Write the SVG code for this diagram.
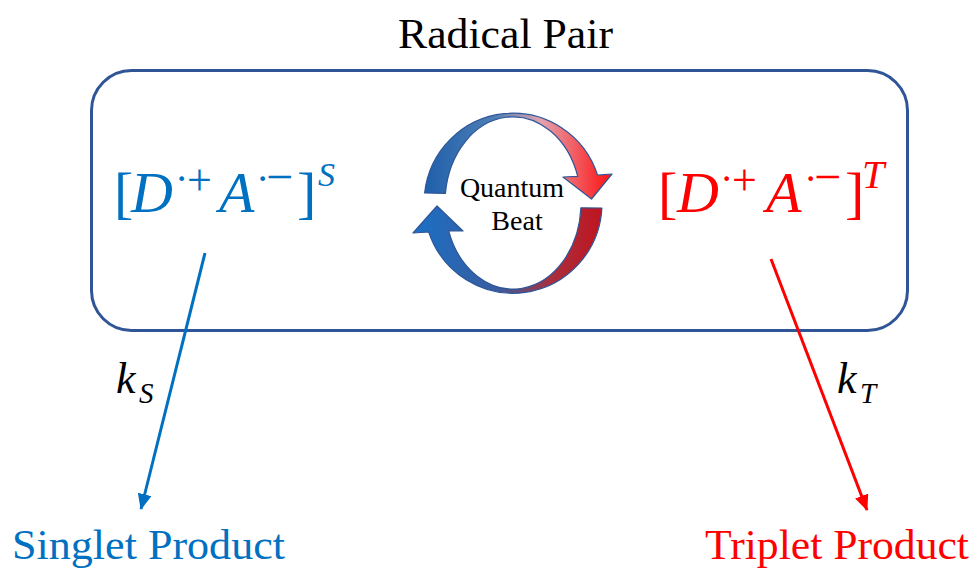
<svg xmlns="http://www.w3.org/2000/svg" width="977" height="568" viewBox="0 0 977 568">
<defs>
<style>
text{font-family:"Liberation Serif","Times New Roman",serif;}
.it{font-style:italic;}
.blue{fill:#0070C0;}
.red{fill:#FF0000;}
.box{fill:none;stroke:#2F5597;stroke-width:3;}
.ring{stroke:#2F5597;stroke-width:1.2;stroke-linejoin:round;}
.conn-blue{stroke:#0070C0;stroke-width:3;fill:none;}
.conn-red{stroke:#FF0000;stroke-width:3;fill:none;}
</style>
<marker id="arrBlue" markerUnits="userSpaceOnUse" markerWidth="16" markerHeight="14" refX="15" refY="7" orient="auto">
<path d="M0,0 L16,7 L0,14 Z" fill="#0070C0"/>
</marker>
<marker id="arrRed" markerUnits="userSpaceOnUse" markerWidth="16" markerHeight="14" refX="15" refY="7" orient="auto">
<path d="M0,0 L16,7 L0,14 Z" fill="#FF0000"/>
</marker>
<linearGradient id="gTop" gradientUnits="userSpaceOnUse" x1="425" y1="0" x2="612" y2="0">
<stop offset="0" stop-color="#1F5FAA"/>
<stop offset="0.38" stop-color="#4F80B6"/>
<stop offset="0.62" stop-color="#E4A2AE"/>
<stop offset="1" stop-color="#FF1010"/>
</linearGradient>
<linearGradient id="gBot" gradientUnits="userSpaceOnUse" x1="413" y1="0" x2="603" y2="0">
<stop offset="0" stop-color="#1A70C6"/>
<stop offset="0.45" stop-color="#3A5C9E"/>
<stop offset="0.72" stop-color="#A8303E"/>
<stop offset="1" stop-color="#C0141E"/>
</linearGradient>
</defs>

<g id="radical-pair">
<rect class="box" x="91.5" y="70.5" width="816" height="260" rx="40" ry="40"/>
<text x="398" y="48" font-size="42" textLength="215" lengthAdjust="spacingAndGlyphs" fill="#000">Radical Pair</text>
</g>

<g id="singlet-state">
<text class="blue" font-size="58">
<tspan x="114" y="212">[</tspan><tspan class="it" x="131" y="212">D</tspan><tspan x="175" y="192" font-size="40">·</tspan><tspan x="187" y="195" font-size="44">+</tspan><tspan class="it" x="219" y="212">A</tspan><tspan x="256" y="192" font-size="40">·</tspan><tspan x="266" y="193" font-size="48">−</tspan><tspan x="297" y="212">]</tspan><tspan class="it" x="318" y="186" font-size="34">S</tspan>
</text>
</g>

<g id="triplet-state">
<text class="red" font-size="58">
<tspan x="658" y="212">[</tspan><tspan class="it" x="677" y="212">D</tspan><tspan x="720" y="192" font-size="40">·</tspan><tspan x="732" y="195" font-size="44">+</tspan><tspan class="it" x="766" y="212">A</tspan><tspan x="804" y="192" font-size="40">·</tspan><tspan x="814" y="193" font-size="48">−</tspan><tspan x="845" y="212">]</tspan><tspan class="it" x="862" y="188" font-size="40">T</tspan>
</text>
</g>

<g id="quantum-beat">
<path class="ring" fill="url(#gTop)" d="M424.6,193 A89,90 0 0 1 597.6,175.2 L612,174 L591.5,199 L563,177 L577.7,176.4 A68,86 0 0 0 445.4,193.4 Z"/>
<path class="ring" fill="url(#gBot)" d="M601.9,208 A89,90 0 0 1 428.7,232 L413,233 L437,206 L463,231 L448.6,230.7 A68,86 0 0 0 580.9,207.8 Z"/>
<text font-size="28" fill="#000" text-anchor="middle"><tspan x="512" y="197">Quantum</tspan><tspan x="517" y="230">Beat</tspan></text>
</g>

<g id="connectors">
<line class="conn-blue" x1="205" y1="253" x2="141" y2="509" marker-end="url(#arrBlue)"/>
<line class="conn-red" x1="771" y1="259" x2="867" y2="510" marker-end="url(#arrRed)"/>
<text class="it" fill="#000" font-size="44"><tspan x="116" y="393">k</tspan><tspan x="139" y="403" font-size="29">S</tspan></text>
<text class="it" fill="#000" font-size="44"><tspan x="837" y="393">k</tspan><tspan x="860" y="403" font-size="29">T</tspan></text>
</g>

<g id="singlet-product">
<text class="blue" x="12" y="559" font-size="43" textLength="273" lengthAdjust="spacingAndGlyphs">Singlet Product</text>
</g>

<g id="triplet-product">
<text class="red" x="705" y="559" font-size="43" textLength="264" lengthAdjust="spacingAndGlyphs">Triplet Product</text>
</g>
</svg>
